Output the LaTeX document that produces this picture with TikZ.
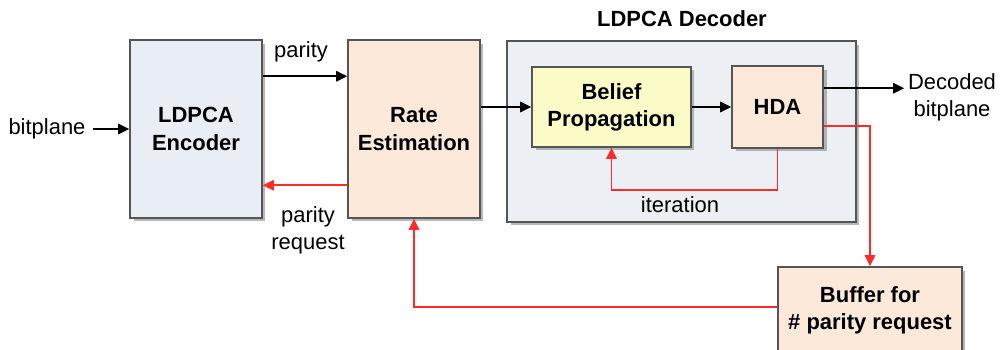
\documentclass[tikz,border=0pt]{standalone}
\usepackage{fontspec}
\setmainfont{Liberation Sans}
\usetikzlibrary{arrows.meta,shadows,calc}

\definecolor{edge}{HTML}{555555}
\definecolor{encfill}{HTML}{E9EDF4}
\definecolor{ratefill}{HTML}{FCE9DA}
\definecolor{bpfill}{HTML}{FBFBC8}
\definecolor{decfill}{HTML}{ECF0F5}
\definecolor{req}{HTML}{FF2A2A}

\tikzset{
  blockbox/.style={draw=edge, line width=0.9pt, align=center, inner sep=2pt,
    font=\fontsize{12.5}{15.5}\selectfont\bfseries,
    drop shadow={shadow xshift=0.07cm, shadow yshift=-0.07cm, fill=black!40, opacity=0.7}},
  plain/.style={align=center, inner sep=2pt, font=\fontsize{12.5}{15.5}\selectfont},
  arr/.style={line width=0.9pt, -{Triangle[length=2.2mm,width=2.1mm]}},
  redarr/.style={req, line width=0.9pt, -{Triangle[length=2.2mm,width=2.1mm]}},
}

\begin{document}
\begin{tikzpicture}[x=0.02cm, y=-0.02cm]
\useasboundingbox (0,0) rectangle (1000,350);

% decoder container
\node[blockbox, fill=decfill, minimum width=6.98cm, minimum height=3.62cm,
      drop shadow={shadow xshift=0.03cm, shadow yshift=-0.03cm, fill=black!40, opacity=0.5}]
      (dec) at (681.5,131.5) {};
\node[plain, font=\fontsize{12.5}{15.5}\selectfont\bfseries] (dectitle) at (682,19) {LDPCA Decoder};

% blocks
\node[blockbox, fill=encfill, minimum width=2.64cm, minimum height=3.56cm] (enc) at (196,129) {LDPCA\\Encoder};
\node[blockbox, fill=ratefill, minimum width=2.64cm, minimum height=3.56cm] (rate) at (414,129) {Rate\\Estimation};
\node[blockbox, fill=bpfill, minimum width=3.18cm, minimum height=1.6cm] (bp) at (611.5,107) {Belief\\Propagation};
\node[blockbox, fill=ratefill, minimum width=1.82cm, minimum height=1.64cm] (hda) at (777.5,107) {HDA};
\node[blockbox, fill=ratefill, minimum width=3.68cm, minimum height=1.74cm] (buf) at (870,310.5) {Buffer for\\\# parity request};

% free labels
\node[plain] (bit) at (47,129) {bitplane};
\node[plain] (out) at (952,97) {Decoded\\bitplane};
\node[plain] (par) at (301,52) {parity};
\node[plain] (preq) at (308,230) {parity\\request};
\node[plain] (iter) at (680,205) {iteration};

% forward path
\draw[arr] ($(bit.east)+(4,0)$) -- (enc.west);
\coordinate (pstart) at ($(enc.north east)+(0,37)$);
\draw[arr] (pstart) -- (pstart -| rate.west);
\draw[arr] (rate.east |- bp.west) -- (bp.west);
\draw[arr] (bp) -- (hda);
\coordinate (ostart) at ($(hda.north east)+(0,23)$);
\draw[arr] (ostart) -- (ostart -| out.west);

% request path
\coordinate (rqstart) at ($(rate.north west)+(0,146)$);
\draw[redarr] (rqstart) -- (rqstart -| enc.east);
\coordinate (hdaout) at ($(hda.north east)+(0,61)$);
\draw[redarr] (hdaout) -- (hdaout -| buf.north) -- (buf.north);
\coordinate (bufout) at ($(buf.north west)+(0,41)$);
\draw[redarr] (bufout) -- (bufout -| rate.south) -- (rate.south);

% iteration loop
\coordinate (loopy) at (0,190);
\draw[redarr] (hda.south) -- (hda.south |- loopy) -- (bp.south |- loopy) -- (bp.south);
\end{tikzpicture}
\end{document}
